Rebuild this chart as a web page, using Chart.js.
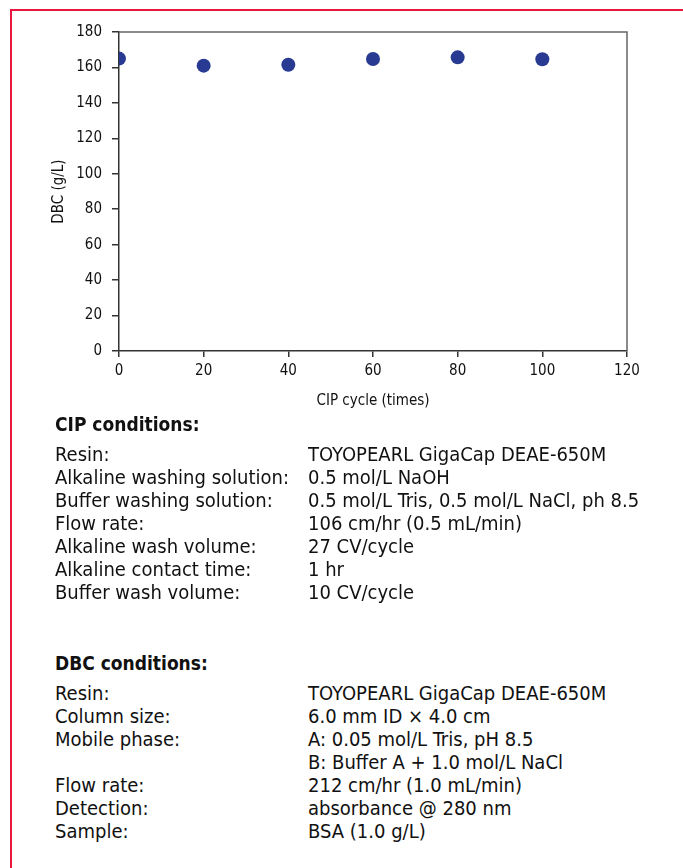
<!DOCTYPE html>
<html>
<head>
<meta charset="utf-8">
<script src="https://cdn.jsdelivr.net/npm/chart.js@4.4.1/dist/chart.umd.min.js"></script>
<style>
  html, body { margin: 0; padding: 0; background: #fff; }
  body { width: 683px; height: 868px; position: relative; overflow: hidden;
         font-family: 'DejaVu Sans Condensed', 'Liberation Sans', sans-serif; color: #111; }
  .frame { position: absolute; left: 10px; top: 9px; width: 720px; height: 900px;
           border-top: 2px solid #e8173d; border-left: 2px solid #e8173d; }
  .chart-wrap { position: absolute; left: 0; top: 0; width: 683px; height: 420px; }
  .cond { position: absolute; left: 55px; font-size: 20px; line-height: 23px; }
  .cond h3 { margin: 0 0 7px 0; font-size: 19px; font-weight: bold; line-height: 23px; }
  .row { display: flex; height: 23px; white-space: nowrap; }
  .row .k { width: 253px; flex: none; }
</style>
</head>
<body>
<div class="frame"></div>
<div class="chart-wrap"><canvas id="dbcChart"></canvas></div>
<div class="cond" id="cip" style="top:413px"></div>
<div class="cond" id="dbc" style="top:652px"></div>

<script>
// CIP cycle vs dynamic binding capacity
const cycles = [0, 20, 40, 60, 80, 100];
const dbcValues = [165, 161, 161.5, 164.8, 165.7, 164.6];
const xTicks = { min: 0, max: 120, step: 20 };
const yTicks = { min: 0, max: 180, step: 20 };

const cipTitle = 'CIP conditions:';
const cipRows = [
  ['Resin:', 'TOYOPEARL GigaCap DEAE-650M'],
  ['Alkaline washing solution:', '0.5 mol/L NaOH'],
  ['Buffer washing solution:', '0.5 mol/L Tris, 0.5 mol/L NaCl, ph 8.5'],
  ['Flow rate:', '106 cm/hr (0.5 mL/min)'],
  ['Alkaline wash volume:', '27 CV/cycle'],
  ['Alkaline contact time:', '1 hr'],
  ['Buffer wash volume:', '10 CV/cycle'],
];
const dbcTitle = 'DBC conditions:';
const dbcRows = [
  ['Resin:', 'TOYOPEARL GigaCap DEAE-650M'],
  ['Column size:', '6.0 mm ID \u00d7 4.0 cm'],
  ['Mobile phase:', 'A: 0.05 mol/L Tris, pH 8.5'],
  ['', 'B: Buffer A + 1.0 mol/L NaCl'],
  ['Flow rate:', '212 cm/hr (1.0 mL/min)'],
  ['Detection:', 'absorbance @ 280 nm'],
  ['Sample:', 'BSA (1.0 g/L)'],
];

const FONT = "'DejaVu Sans Condensed', 'Liberation Sans', sans-serif";
const POINT = '#283a92';
const AXIS = '#333';

function fillConditions(id, title, rows) {
  const el = document.getElementById(id);
  const h = document.createElement('h3');
  h.textContent = title;
  el.appendChild(h);
  rows.forEach(([k, v]) => {
    const r = document.createElement('div');
    r.className = 'row';
    const a = document.createElement('span'); a.className = 'k'; a.textContent = k;
    const b = document.createElement('span'); b.textContent = v;
    r.appendChild(a); r.appendChild(b);
    el.appendChild(r);
  });
}
fillConditions('cip', cipTitle, cipRows);
fillConditions('dbc', dbcTitle, dbcRows);

// top + right edges of the plot box
const boxPlugin = {
  id: 'plotBox',
  afterDraw(chart) {
    const { ctx: c, chartArea: { left, right, top, bottom } } = chart;
    c.save();
    c.strokeStyle = '#666';
    c.lineWidth = 1.5;
    c.beginPath();
    c.moveTo(left, top);
    c.lineTo(right, top);
    c.lineTo(right, bottom);
    c.stroke();
    c.restore();
  }
};

new Chart(document.getElementById('dbcChart'), {
  type: 'scatter',
  data: {
    datasets: [{
      data: cycles.map((x, i) => ({ x, y: dbcValues[i] })),
      backgroundColor: POINT,
      borderColor: POINT,
      borderWidth: 0,
      pointRadius: 7,
    }]
  },
  plugins: [boxPlugin],
  options: {
    responsive: true,
    maintainAspectRatio: false,
    animation: false,
    layout: { padding: { left: 40, top: 32, right: 56, bottom: 0 } },
    plugins: { legend: { display: false }, tooltip: { enabled: false } },
    scales: {
      x: {
        type: 'linear',
        min: xTicks.min, max: xTicks.max,
        afterFit: s => { s.height = 69; },
        ticks: { stepSize: xTicks.step, color: '#111', padding: 5, font: { family: FONT, size: 15 } },
        grid: { drawOnChartArea: false, tickLength: 6, color: AXIS, lineWidth: 1.5 },
        border: { color: AXIS, width: 1.5 },
        title: { display: true, text: 'CIP cycle (times)', color: '#111', padding: { top: 0, bottom: 10 },
                 font: { family: FONT, size: 15 } }
      },
      y: {
        min: yTicks.min, max: yTicks.max,
        afterFit: s => { s.width = 79; },
        ticks: { stepSize: yTicks.step, color: '#111', padding: 10, font: { family: FONT, size: 15 } },
        grid: { drawOnChartArea: false, tickLength: 7, color: AXIS, lineWidth: 1.5 },
        border: { color: AXIS, width: 1.5 },
        title: { display: true, text: 'DBC (g/L)', color: '#111', padding: { top: 10, bottom: 0 },
                 font: { family: FONT, size: 15 } }
      }
    }
  }
});
</script>
</body>
</html>
